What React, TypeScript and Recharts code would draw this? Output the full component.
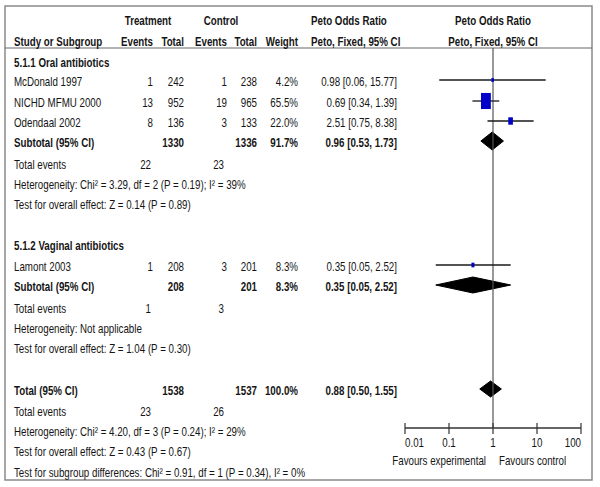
import React from 'react';
import { ComposedChart, XAxis, YAxis, Scatter, Area, ReferenceLine } from 'recharts';

const W = 600;
const H = 487;
const FONT = '"Liberation Sans", Arial, sans-serif';
const SQUEEZE = 0.75; // the source font is narrow
const TEXT = '#151515';

// studies
const studyNames = ['McDonald 1997', 'NICHD MFMU 2000', 'Odendaal 2002', 'Lamont 2003'];
const txEvents = [1, 13, 8, 1];
const txTotal = [242, 952, 136, 208];
const ctEvents = [1, 19, 3, 3];
const ctTotal = [238, 965, 133, 201];
const weights = [4.2, 65.5, 22.0, 8.3];
const orVals = [0.98, 0.69, 2.51, 0.35];
const ciLow = [0.06, 0.34, 0.75, 0.05];
const ciHigh = [15.77, 1.39, 8.38, 2.52];

// subgroups
const groupTitles = ['5.1.1 Oral antibiotics', '5.1.2 Vaginal antibiotics'];
const groupStudies = [[0, 1, 2], [3]];
const subTxTotal = [1330, 208];
const subCtTotal = [1336, 201];
const subWeight = [91.7, 8.3];
const subOr = [0.96, 0.35];
const subLow = [0.53, 0.05];
const subHigh = [1.73, 2.52];
const subTxEvents = [22, 1];
const subCtEvents = [23, 3];
const subHet = ['Heterogeneity: Chi² = 3.29, df = 2 (P = 0.19); I² = 39%', 'Heterogeneity: Not applicable'];
const subOverall = ['Test for overall effect: Z = 0.14 (P = 0.89)', 'Test for overall effect: Z = 1.04 (P = 0.30)'];

// overall
const totTx = 1538;
const totCt = 1537;
const totWeight = 100.0;
const totOr = 0.88;
const totLow = 0.5;
const totHigh = 1.55;
const totTxEvents = 23;
const totCtEvents = 26;
const totHet = 'Heterogeneity: Chi² = 4.20, df = 3 (P = 0.24); I² = 29%';
const totOverall = 'Test for overall effect: Z = 0.43 (P = 0.67)';
const subgroupTest = 'Test for subgroup differences: Chi² = 0.91, df = 1 (P = 0.34), I² = 0%';

const axisTicks = [0.01, 0.1, 1, 10, 100];
const axisLabels = ['0.01', '0.1', '1', '10', '100'];

// layout (pixel rows)
const AXIS_Y = 428;
const RULE_Y = 48;
const studyY = [80, 101, 121, 265];
const groupY = [61, 244];
const subY = [141, 285];
const eventsY = [163, 307];
const hetY = [183, 327];
const overallY = [203, 347];
const totalY = 389;
const totEventsY = 410;
const totHetY = 430;
const totOverallY = 450;
const subgroupY = 471;
const COL = { label: 14, txEv: 153, txTot: 184, ctEv: 227, ctTot: 257, weight: 298, ci: 397 };

const fmtW = (w: number) => `${w.toFixed(1)}%`;
const fmtCi = (o: number, l: number, h: number) => `${o.toFixed(2)} [${l.toFixed(2)}, ${h.toFixed(2)}]`;

function T({ x, y, children, anchor = 'start', bold = false }: any) {
  return (
    <text
      transform={`translate(${x},${y + 1}) scale(${SQUEEZE},1)`}
      textAnchor={anchor}
      dominantBaseline="central"
      fontFamily={FONT}
      fontSize={13}
      fontWeight={bold ? 700 : 400}
      fill={TEXT}
    >
      {children}
    </text>
  );
}

function Table() {
  const rows: React.ReactNode[] = [];
  groupTitles.forEach((title, g) => {
    rows.push(<T key={`g${g}`} x={COL.label} y={groupY[g]} bold>{title}</T>);
    groupStudies[g].forEach((i, k) => {
      const y = studyY[i];
      rows.push(
        <g key={`s${i}`}>
          <T x={COL.label} y={y}>{studyNames[i]}</T>
          <T x={COL.txEv} y={y} anchor="end">{txEvents[i]}</T>
          <T x={COL.txTot} y={y} anchor="end">{txTotal[i]}</T>
          <T x={COL.ctEv} y={y} anchor="end">{ctEvents[i]}</T>
          <T x={COL.ctTot} y={y} anchor="end">{ctTotal[i]}</T>
          <T x={COL.weight} y={y} anchor="end">{fmtW(weights[i])}</T>
          <T x={COL.ci} y={y} anchor="end">{fmtCi(orVals[i], ciLow[i], ciHigh[i])}</T>
        </g>
      );
    });
    rows.push(
      <g key={`sub${g}`}>
        <T x={COL.label} y={subY[g]} bold>Subtotal (95% CI)</T>
        <T x={COL.txTot} y={subY[g]} anchor="end" bold>{subTxTotal[g]}</T>
        <T x={COL.ctTot} y={subY[g]} anchor="end" bold>{subCtTotal[g]}</T>
        <T x={COL.weight} y={subY[g]} anchor="end" bold>{fmtW(subWeight[g])}</T>
        <T x={COL.ci} y={subY[g]} anchor="end" bold>{fmtCi(subOr[g], subLow[g], subHigh[g])}</T>
        <T x={COL.label} y={eventsY[g]}>Total events</T>
        <T x={COL.txEv - 2} y={eventsY[g]} anchor="end">{subTxEvents[g]}</T>
        <T x={COL.ctEv - 3} y={eventsY[g]} anchor="end">{subCtEvents[g]}</T>
        <T x={COL.label} y={hetY[g]}>{subHet[g]}</T>
        <T x={COL.label} y={overallY[g]}>{subOverall[g]}</T>
      </g>
    );
  });

  return (
    <svg width={W} height={H} style={{ position: 'absolute', left: 0, top: 0 }}>
      <rect x={5} y={6} width={587} height={474} fill="#fff" stroke="#8a8a8a" strokeWidth={1.5} />
      <line x1={5} x2={592} y1={RULE_Y} y2={RULE_Y} stroke="#666" strokeWidth={1} />
      <T x={148} y={19} anchor="middle" bold>Treatment</T>
      <T x={221} y={19} anchor="middle" bold>Control</T>
      <T x={311} y={19} bold>Peto Odds Ratio</T>
      <T x={493} y={19} anchor="middle" bold>Peto Odds Ratio</T>
      <T x={COL.label} y={40} bold>Study or Subgroup</T>
      <T x={COL.txEv} y={40} anchor="end" bold>Events</T>
      <T x={COL.txTot} y={40} anchor="end" bold>Total</T>
      <T x={COL.ctEv} y={40} anchor="end" bold>Events</T>
      <T x={COL.ctTot} y={40} anchor="end" bold>Total</T>
      <T x={COL.weight} y={40} anchor="end" bold>Weight</T>
      <T x={311} y={40} bold>Peto, Fixed, 95% CI</T>
      <T x={493} y={40} anchor="middle" bold>Peto, Fixed, 95% CI</T>
      {rows}
      <T x={COL.label} y={totalY} bold>Total (95% CI)</T>
      <T x={COL.txTot} y={totalY} anchor="end" bold>{totTx}</T>
      <T x={COL.ctTot} y={totalY} anchor="end" bold>{totCt}</T>
      <T x={COL.weight} y={totalY} anchor="end" bold>{fmtW(totWeight)}</T>
      <T x={COL.ci} y={totalY} anchor="end" bold>{fmtCi(totOr, totLow, totHigh)}</T>
      <T x={COL.label} y={totEventsY}>Total events</T>
      <T x={COL.txEv - 2} y={totEventsY} anchor="end">{totTxEvents}</T>
      <T x={COL.ctEv - 3} y={totEventsY} anchor="end">{totCtEvents}</T>
      <T x={COL.label} y={totHetY}>{totHet}</T>
      <T x={COL.label} y={totOverallY}>{totOverall}</T>
      <T x={COL.label} y={subgroupY}>{subgroupTest}</T>
      <T x={486} y={459} anchor="end">Favours experimental</T>
      <T x={499} y={459}>Favours control</T>
    </svg>
  );
}

function AxisTick({ x, y, index }: any) {
  const last = axisTicks.length - 1;
  const anchor = index === 0 ? 'start' : index === last ? 'end' : 'middle';
  return (
    <g>
      <line x1={x} x2={x} y1={y - 5} y2={y + 6} stroke="#333" strokeWidth={1.2} />
      <T x={x} y={y + 13} anchor={anchor}>{axisLabels[index]}</T>
    </g>
  );
}

function StudyBox(props: any) {
  const { cx, cy, payload } = props;
  const bw = 2 + 0.12 * payload.w;
  const bh = 3 + 0.2 * payload.w;
  return <rect x={cx - bw / 2} y={cy - bh / 2} width={bw} height={bh} fill="#0000c8" />;
}

const studyPoints = studyNames.map((_, i) => ({ x: orVals[i], y: studyY[i], w: weights[i] }));

const diamondData = (o: number, l: number, h: number, y: number, half: number) => [
  { x: l, d: [y, y] },
  { x: o, d: [y - half, y + half] },
  { x: h, d: [y, y] },
];
const diamonds = [
  diamondData(subOr[0], subLow[0], subHigh[0], subY[0], 9),
  diamondData(subOr[1], subLow[1], subHigh[1], subY[1], 8),
  diamondData(totOr, totLow, totHigh, totalY, 8),
];

export default function App() {
  return (
    <div style={{ position: 'absolute', left: 0, top: 0, width: W, height: H, background: '#fff' }}>
      <Table />
      <div style={{ position: 'absolute', left: 0, top: 0 }}>
        <ComposedChart width={W} height={H} margin={{ top: 0, right: 19, bottom: 29, left: 405 }}>
          <XAxis
            dataKey="x"
            type="number"
            scale="log"
            domain={[0.01, 100]}
            ticks={axisTicks}
            allowDataOverflow
            height={30}
            tickSize={0}
            tickMargin={0}
            tickLine={false}
            axisLine={{ stroke: '#333', strokeWidth: 1.3 }}
            tick={<AxisTick />}
          />
          <YAxis dataKey="y" type="number" domain={[0, AXIS_Y]} reversed hide width={0} />
          <ReferenceLine
            segment={[{ x: 1, y: RULE_Y }, { x: 1, y: AXIS_Y }]}
            stroke="#555"
            strokeWidth={1.2}
          />
          {studyNames.map((_, i) => (
            <ReferenceLine
              key={`ci${i}`}
              segment={[{ x: ciLow[i], y: studyY[i] }, { x: ciHigh[i], y: studyY[i] }]}
              stroke="#1a1a1a"
              strokeWidth={1.3}
            />
          ))}
          {diamonds.map((d, k) => (
            <Area
              key={`dm${k}`}
              data={d}
              dataKey="d"
              type="linear"
              stroke="#000"
              strokeWidth={1}
              fill="#000"
              fillOpacity={1}
              dot={false}
              activeDot={false}
              isAnimationActive={false}
            />
          ))}
          <Scatter data={studyPoints} shape={<StudyBox />} isAnimationActive={false} />
        </ComposedChart>
      </div>
    </div>
  );
}
